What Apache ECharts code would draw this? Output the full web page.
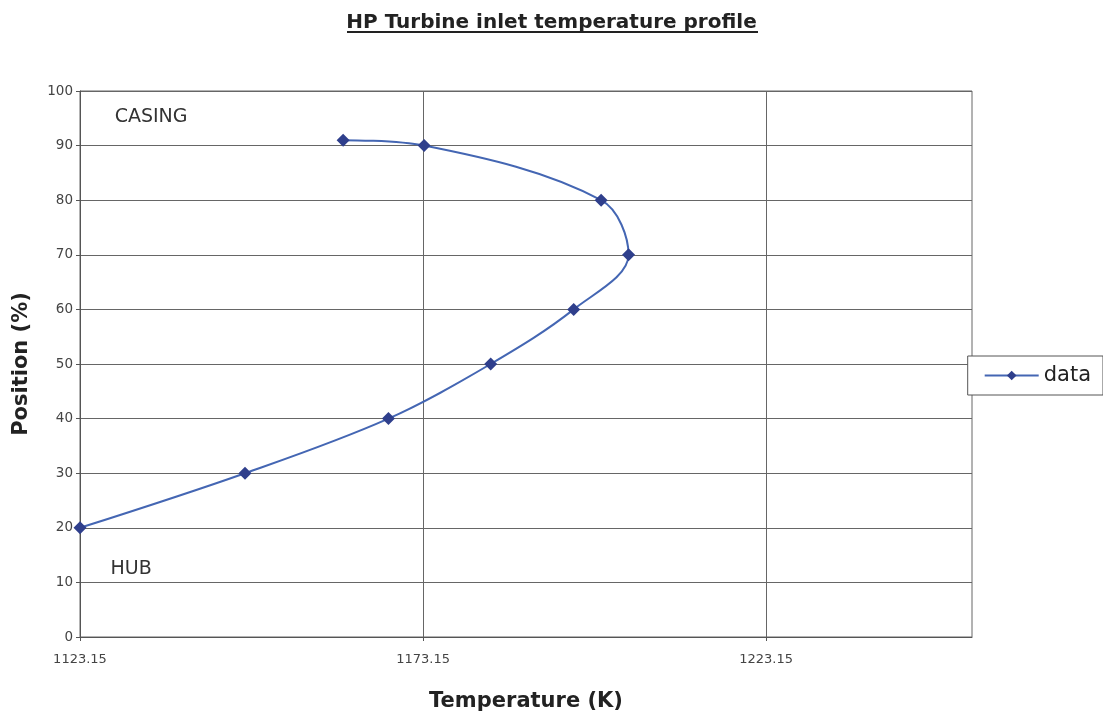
<!DOCTYPE html>
<html><head><meta charset="utf-8">
<script src="https://cdn.jsdelivr.net/npm/echarts@6/dist/echarts.min.js"></script>
<style>html,body{margin:0;padding:0;background:#fff}#c{width:1103px;height:715px}</style>
</head><body><div id="c"></div>
<script>
const temperatures = [1123.15, 1147.2, 1168.1, 1183.0, 1195.1, 1203.1, 1199.1, 1173.3, 1161.5];
const positions = [20, 30, 40, 50, 60, 70, 80, 90, 91];
const xTicks = [1123.15, 1173.15, 1223.15];
const seriesName = 'data';

const chart = echarts.init(document.getElementById('c'), null, {renderer: 'canvas'});
const font = 'DejaVu Sans, Liberation Sans, Arial, sans-serif';
chart.setOption({
  backgroundColor: '#fff',
  animation: false,
  title: {
    text: 'HP Turbine inlet temperature profile',
    left: 'center', top: 8,
    textStyle: {fontFamily: font, fontSize: 20, fontWeight: 'bold', color: '#222'}
  },
  grid: {left: 80, right: 131, top: 91, bottom: 78, show: true, borderColor: '#666', borderWidth: 1,
         backgroundColor: 'transparent', outerBoundsMode: 'none', containLabel: false},
  legend: {
    data: [seriesName], right: 0, top: 356, orient: 'vertical',
    backgroundColor: '#fff', borderColor: '#555', borderWidth: 1, padding: [9, 12, 9, 16],
    itemWidth: 54, itemHeight: 12, itemGap: 6,
    textStyle: {fontFamily: font, fontSize: 21, color: '#222'}
  },
  xAxis: {
    type: 'value', min: 1123.15, max: 1253.15,
    name: 'Temperature (K)', nameLocation: 'middle', nameGap: 54,
    nameTextStyle: {fontFamily: font, fontSize: 21, fontWeight: 'bold', color: '#222'},
    axisLine: {show: true, lineStyle: {color: '#555'}},
    axisTick: {show: true, length: 4, lineStyle: {color: '#555'}, customValues: xTicks},
    axisLabel: {customValues: xTicks, margin: 16, fontFamily: font, fontSize: 13, color: '#444', formatter: v => v.toFixed(2)},
    splitLine: {show: true, lineStyle: {color: '#666', width: 1}}
  },
  yAxis: {
    type: 'value', min: 0, max: 100, interval: 10,
    name: 'Position (%)', nameLocation: 'middle', nameGap: 48,
    nameTextStyle: {fontFamily: font, fontSize: 21, fontWeight: 'bold', color: '#222'},
    axisLine: {show: true, lineStyle: {color: '#555'}},
    axisTick: {show: true, length: 4, lineStyle: {color: '#555'}},
    axisLabel: {margin: 7, fontFamily: font, fontSize: 13.5, color: '#444'},
    splitLine: {show: true, lineStyle: {color: '#666', width: 1}}
  },
  series: [{
    name: seriesName, type: 'line',
    data: temperatures.map((t, i) => [t, positions[i]]),
    smooth: 0.35,
    symbol: 'diamond', symbolSize: 13,
    lineStyle: {color: '#4466b3', width: 2},
    itemStyle: {color: '#2f3f8c', borderWidth: 0},
    markPoint: {
      symbol: 'circle', symbolSize: 0, silent: true,
      label: {show: true, position: 'inside', fontFamily: font, fontSize: 19, color: '#333', align: 'left'},
      data: [
        {coord: [1128.2, 95.3], value: 'CASING', label: {formatter: 'CASING'}},
        {coord: [1127.6, 12.4], value: 'HUB', label: {formatter: 'HUB'}}
      ]
    }
  }],
  graphic: [{
    type: 'line', shape: {x1: 347, y1: 32, x2: 758, y2: 32},
    style: {stroke: '#222', lineWidth: 2}
  }]
});
</script></body></html>
